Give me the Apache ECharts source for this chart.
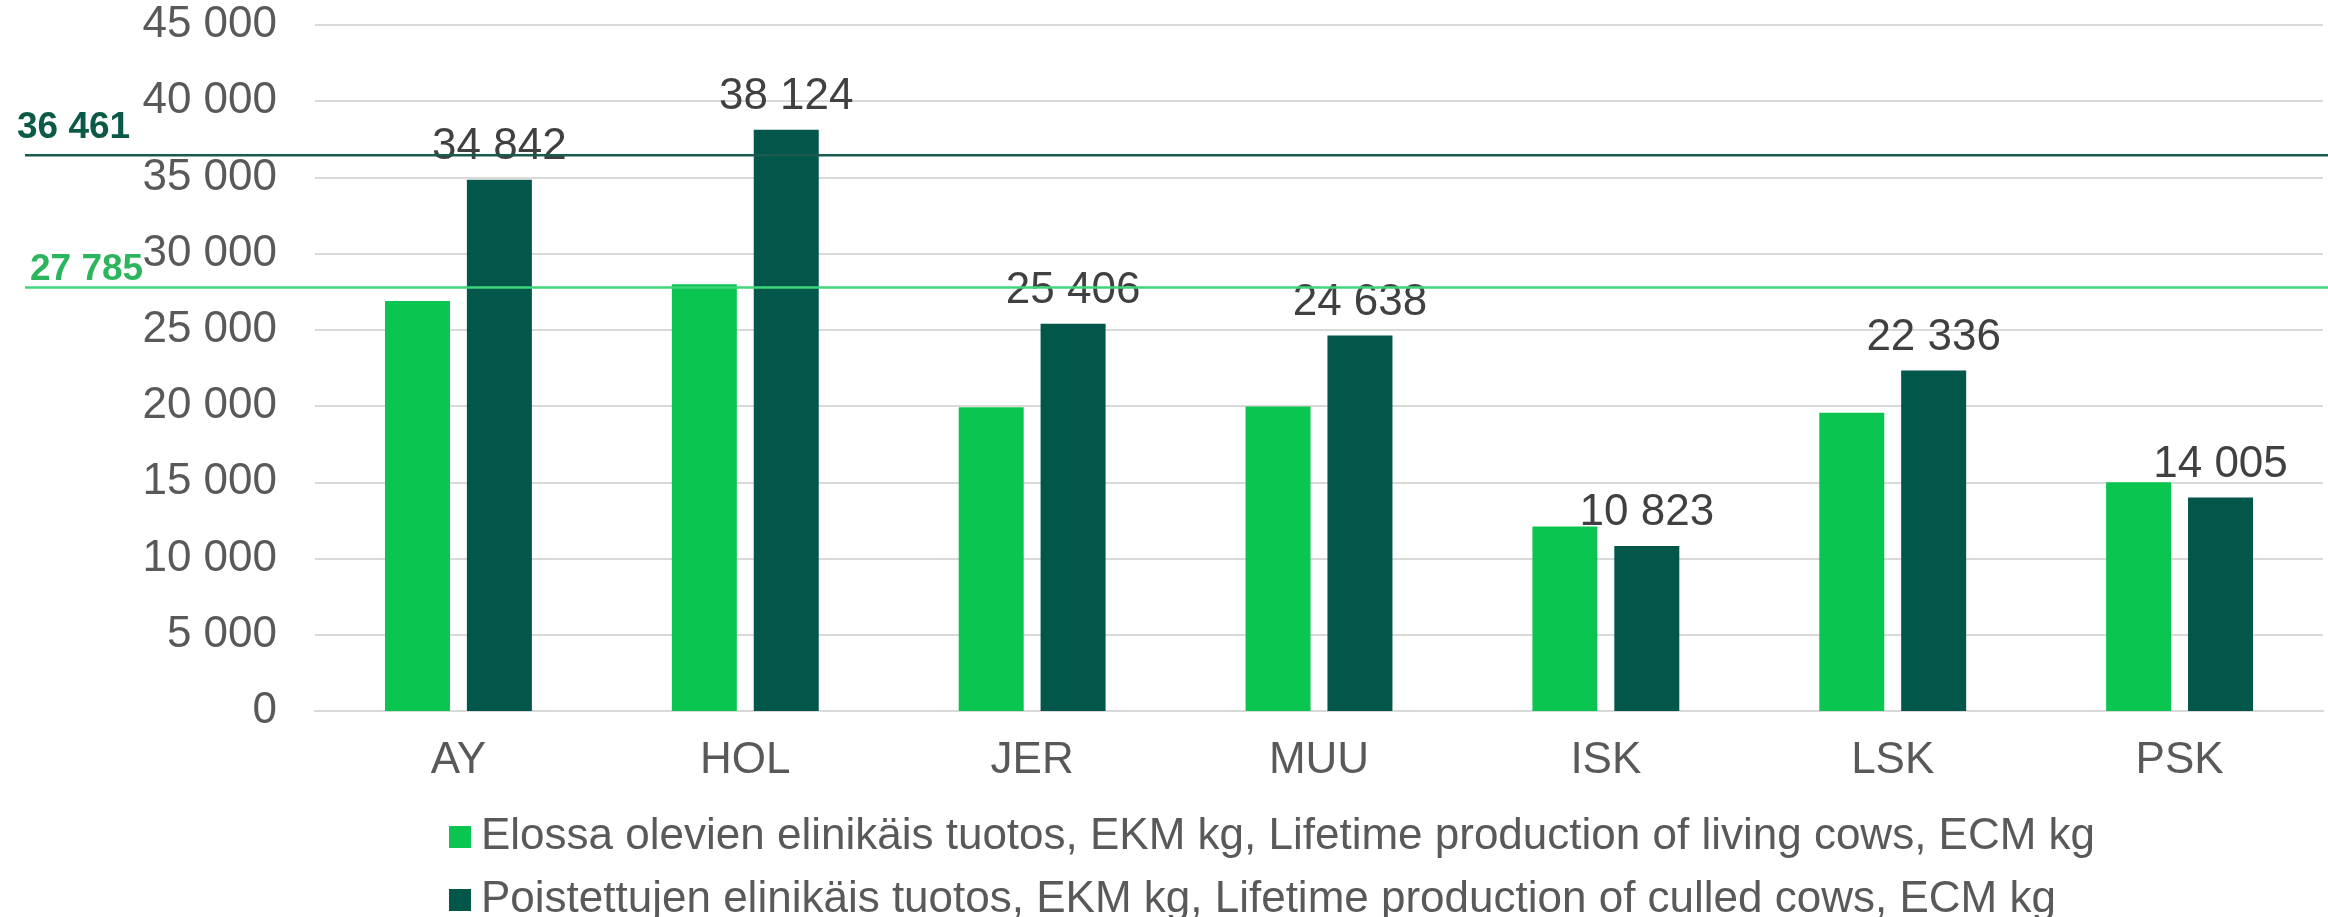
<!DOCTYPE html>
<html>
<head>
<meta charset="utf-8">
<script src="https://cdn.jsdelivr.net/npm/echarts@6/dist/echarts.min.js"></script>
<style>
html,body{margin:0;padding:0;background:#fff;}
#chart{width:2328px;height:917px;}
</style>
</head>
<body>
<div id="chart"></div>
<script>
const categories = ['AY', 'HOL', 'JER', 'MUU', 'ISK', 'LSK', 'PSK'];
const livingNames = 'Elossa olevien elinikäis tuotos, EKM kg, Lifetime production of living cows, ECM kg';
const culledNames = 'Poistettujen elinikäis tuotos, EKM kg, Lifetime production of culled cows, ECM kg';
const livingValues = [26900, 27990, 19920, 19970, 12100, 19560, 15000];
const culledValues = [34842, 38124, 25406, 24638, 10823, 22336, 14005];
const culledAverage = 36461;
const livingAverage = 27785;
const yTicks = { min: 0, max: 45000, interval: 5000 };

const FONT = '"Liberation Sans", Arial, sans-serif';
const fmt = v => String(Math.round(v)).replace(/\B(?=(\d{3})+(?!\d))/g, ' ');

const chart = echarts.init(document.getElementById('chart'), null, { renderer: 'canvas' });

const legendBase = {
  orient: 'horizontal',
  left: 449,
  padding: 0,
  itemWidth: 22,
  itemHeight: 22,
  icon: 'rect',
  textStyle: { fontFamily: FONT, fontSize: 44, color: '#595959', lineHeight: 44, padding: [0, 0, 0, 5] }
};

chart.setOption({
  animation: false,
  backgroundColor: '#ffffff',
  textStyle: { fontFamily: FONT },
  grid: { left: 315, right: 5, top: 25, bottom: 206, containLabel: false },
  legend: [
    Object.assign({}, legendBase, { top: 815, data: [livingNames] }),
    Object.assign({}, legendBase, { top: 878, data: [culledNames] })
  ],
  xAxis: {
    type: 'category',
    data: categories,
    axisTick: { show: false },
    axisLine: { lineStyle: { color: '#d9d9d9', width: 2 } },
    axisLabel: { fontFamily: FONT, fontSize: 44, color: '#595959', margin: 28 }
  },
  yAxis: {
    type: 'value',
    min: yTicks.min,
    max: yTicks.max,
    interval: yTicks.interval,
    axisLine: { show: false },
    axisTick: { show: false },
    splitLine: { lineStyle: { color: '#d9d9d9', width: 2 } },
    axisLabel: { fontFamily: FONT, fontSize: 44, color: '#595959', margin: 38, formatter: fmt }
  },
  series: [
    {
      name: livingNames,
      type: 'bar',
      data: livingValues,
      barWidth: 65,
      barGap: '26%',
      itemStyle: { color: '#0ac650' }
    },
    {
      name: culledNames,
      type: 'bar',
      data: culledValues,
      barWidth: 65,
      barGap: '26%',
      itemStyle: { color: '#02564a' },
      label: {
        show: true,
        position: 'top',
        distance: 11,
        fontFamily: FONT,
        fontSize: 44,
        color: '#404040',
        formatter: p => fmt(p.value)
      }
    }
  ]
});

function drawRefs() {
  const yDark = chart.convertToPixel({ yAxisIndex: 0 }, culledAverage);
  const yGreen = chart.convertToPixel({ yAxisIndex: 0 }, livingAverage);
  chart.setOption({
    graphic: [
      { type: 'line', z: 100, shape: { x1: 25, y1: yDark, x2: 2328, y2: yDark }, style: { stroke: '#1a5a4f', lineWidth: 2.5 } },
      { type: 'line', z: 100, shape: { x1: 25, y1: yGreen, x2: 2328, y2: yGreen }, style: { stroke: '#3fd57a', lineWidth: 2.5 } },
      { type: 'text', z: 100, left: 17, top: yDark - 46, style: { text: fmt(culledAverage), font: 'bold 37px ' + FONT, fill: '#0b5a48' } },
      { type: 'text', z: 100, left: 30, top: yGreen - 36, style: { text: fmt(livingAverage), font: 'bold 37px ' + FONT, fill: '#2db55d' } }
    ]
  });
}
drawRefs();
</script>
</body>
</html>
